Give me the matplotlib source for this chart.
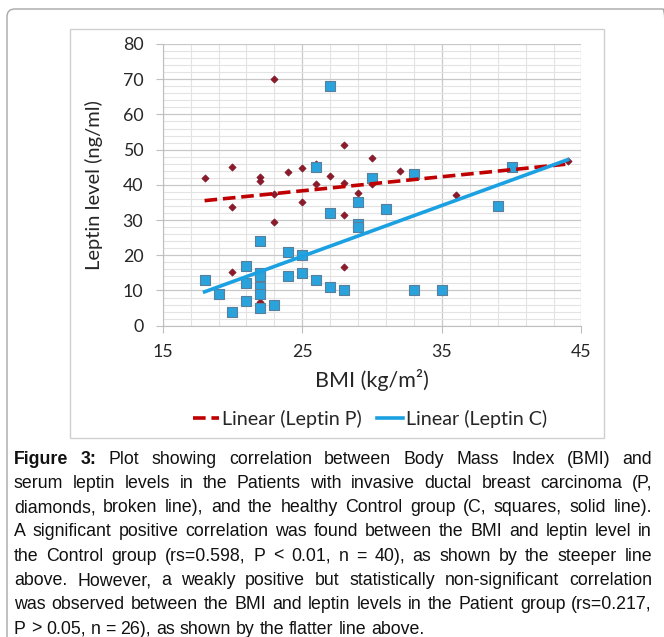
# Leptin vs BMI scatter with linear trendlines + justified figure caption
import numpy as np
import matplotlib.pyplot as plt
from matplotlib import font_manager
from matplotlib.font_manager import FontProperties
from matplotlib.patches import FancyBboxPatch, Rectangle
from matplotlib.lines import Line2D

# -------------------------------------------------------
# DATA
# -------------------------------------------------------
bmi_control = [18, 19, 20, 21, 21, 21, 22, 22, 22, 22, 22, 22, 23, 24, 24, 25, 25,
               26, 26, 27, 27, 27, 28, 29, 29, 29, 30, 31, 33, 33, 35, 39, 40]
leptin_control = [13, 9, 4, 17, 12, 7, 24, 15, 14, 11, 9, 5, 6, 21, 14, 20, 15,
                  45, 13, 68, 32, 11, 10, 35, 29, 28, 42, 33, 43, 10, 10, 34, 45]

bmi_patient = [18, 20, 20, 20, 22, 22, 22, 23, 23, 23, 24, 25, 25, 26, 26, 27,
               28, 28, 28, 28, 29, 30, 30, 32, 36, 44]
leptin_patient = [42.0, 45.0, 33.7, 15.2, 42.2, 41.1, 6.8, 70.0, 37.3, 29.4, 43.7,
                  44.7, 35.1, 45.8, 40.2, 42.6, 51.3, 40.6, 31.3, 16.7, 37.7, 47.5,
                  40.2, 43.8, 37.0, 46.8]

legend_labels = ["Linear (Leptin P)", "Linear (Leptin C)"]

caption_lines = [
    "Figure 3: Plot showing correlation between Body Mass Index (BMI) and",
    "serum leptin levels in the Patients with invasive ductal breast carcinoma (P,",
    "diamonds, broken line), and the healthy Control group (C, squares, solid line).",
    "A significant positive correlation was found between the BMI and leptin level in",
    "the Control group (rs=0.598, P < 0.01, n = 40), as shown by the steeper line",
    "above.  However, a weakly positive but statistically non-significant correlation",
    "was observed between the BMI and leptin levels in the Patient group (rs=0.217,",
    "P > 0.05, n = 26), as shown by the flatter line above.",
]

# -------------------------------------------------------
# Fonts
# -------------------------------------------------------
ttf = font_manager.fontManager.ttflist
installed = {f.name for f in ttf}
CHART_FONT = "Lato" if "Lato" in installed else "DejaVu Sans"

# caption: a narrow Arial-like face if there is one
narrow = [f for f in ttf if "narrow" in f.fname.lower() and "liberation" in f.fname.lower()]
if narrow:
    reg = [f for f in narrow if "bold" not in f.fname.lower() and "italic" not in f.fname.lower()]
    bld = [f for f in narrow if "bold" in f.fname.lower() and "italic" not in f.fname.lower()]
    CAP_REG = FontProperties(fname=(reg or narrow)[0].fname)
    CAP_BOLD = FontProperties(fname=(bld or reg or narrow)[0].fname)
    CAP_SIZE = 13
else:
    CAP_REG = FontProperties(family="Liberation Sans")
    CAP_BOLD = FontProperties(family="Liberation Sans", weight="bold")
    CAP_SIZE = 12.8

W, H = 664, 637
fig = plt.figure(figsize=(W / 100, H / 100), dpi=100)


def px(x, y):
    # pixel coords (top-left origin) -> figure fraction
    return x / W, 1 - y / H


# outer frame and chart box
fig.patches.append(FancyBboxPatch((7 / W, -0.05), 1.0, 1 - 9 / H + 0.05,
                                  boxstyle="round,pad=0,rounding_size=0.012",
                                  transform=fig.transFigure, fill=False,
                                  edgecolor="#a6a6a6", lw=1.0))
fig.patches.append(Rectangle(px(70, 438), (604 - 70) / W, (438 - 29) / H,
                             transform=fig.transFigure, fill=False,
                             edgecolor="#d0d0d0", lw=1.0))

# -------------------------------------------------------
# Scatter plot
# -------------------------------------------------------
ax = fig.add_axes([162.7 / W, 1 - 325.7 / H, (581.5 - 162.7) / W, (325.7 - 44) / H])
ax.set_xlim(15, 45)
ax.set_ylim(0, 80)

ax.set_xticks([15, 25, 35, 45])
ax.set_xticks(np.arange(15, 46, 2), minor=True)
ax.set_yticks(np.arange(0, 81, 10))
ax.set_yticks(np.arange(0, 81, 2), minor=True)
ax.grid(which="minor", color="#e3e3e3", lw=0.8)
ax.grid(which="major", color="#c8c8c8", lw=0.9)
ax.set_axisbelow(True)
for s in ["top", "right"]:
    ax.spines[s].set_visible(False)
for s in ["left", "bottom"]:
    ax.spines[s].set_color("#bfbfbf")
ax.tick_params(which="major", length=5, color="#bfbfbf", labelsize=12.8,
               labelcolor="#262626")
ax.tick_params(which="minor", length=0)
ax.tick_params(axis="x", pad=8)
ax.tick_params(axis="y", pad=9)
for lab in ax.get_xticklabels() + ax.get_yticklabels():
    lab.set_fontfamily(CHART_FONT)

ax.scatter(bmi_patient, leptin_patient, marker="D", s=14, color="#8b1a2b",
           edgecolors="#7a1020", linewidths=0.4, zorder=3)
ax.scatter(bmi_control, leptin_control, marker="s", s=42, color="#2aa2dc",
           edgecolors="#5a7f9a", linewidths=0.8, zorder=3)

# linear trendlines over the full BMI range
all_bmi = bmi_control + bmi_patient
xs = np.array([min(all_bmi), max(all_bmi)])
kp = np.polyfit(bmi_patient, leptin_patient, 1)
kc = np.polyfit(bmi_control, leptin_control, 1)
ax.plot(xs, np.polyval(kp, xs), color="#c00000", lw=2.6, ls=(0, (3.5, 1.6)), zorder=4)
ax.plot(xs, np.polyval(kc, xs), color="#1ba1e2", lw=2.6, zorder=4)

ax.set_xlabel("BMI (kg/m²)", fontsize=15.5, fontfamily=CHART_FONT,
              color="#262626", labelpad=7)
ax.set_ylabel("Leptin level (ng/ml)", fontsize=14.5, fontfamily=CHART_FONT,
              color="#262626", labelpad=14)

handles = [Line2D([], [], color="#c00000", lw=2.6, ls=(0, (3.5, 1.6))),
           Line2D([], [], color="#1ba1e2", lw=2.6)]
fig.legend(handles, legend_labels, loc="center", bbox_to_anchor=px(370, 419),
           ncol=2, frameon=False, handlelength=1.3, handletextpad=0.15,
           columnspacing=0.8, prop={"family": CHART_FONT, "size": 14.2},
           labelcolor="#262626")

# -------------------------------------------------------
# Justified caption
# -------------------------------------------------------
renderer = fig.canvas.get_renderer()
LEFT, RIGHT = 14, 652
y0, dy = 459, 24.3


def text_width(s, fp):
    t = fig.text(0, 0, s, fontproperties=fp, fontsize=CAP_SIZE)
    w = t.get_window_extent(renderer).width
    t.remove()
    return w


space_w = text_width("a b", CAP_REG) - text_width("ab", CAP_REG)

for i, line in enumerate(caption_lines):
    words = line.split()
    items = []
    for j, w in enumerate(words):
        fp = CAP_BOLD if (i == 0 and j < 2) else CAP_REG
        t = fig.text(0, 0, w, fontproperties=fp, fontsize=CAP_SIZE, va="center",
                     color="#111111")
        items.append((t, t.get_window_extent(renderer).width))
    total = sum(wd for _, wd in items)
    if i == len(caption_lines) - 1:
        gap = space_w
    else:
        gap = (RIGHT - LEFT - total) / (len(items) - 1)
    x = LEFT
    for t, wd in items:
        t.set_position(px(x, y0 + i * dy))
        x += wd + gap

fig.savefig("out.png", dpi=100, facecolor="white")
